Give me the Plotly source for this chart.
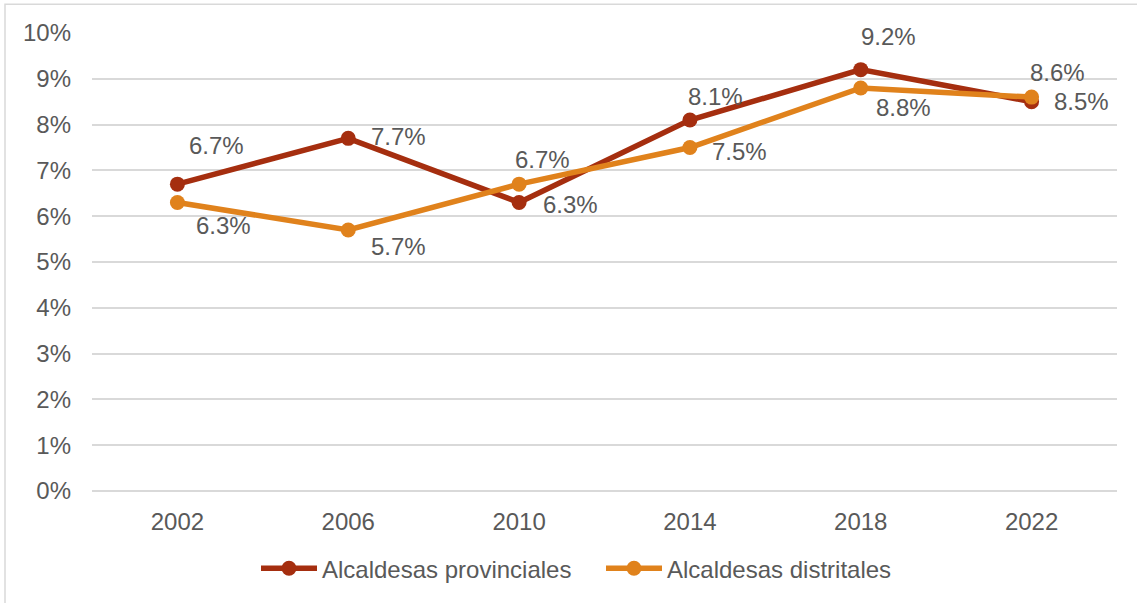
import plotly.graph_objects as go

years = ["2002", "2006", "2010", "2014", "2018", "2022"]
provinciales = [6.7, 7.7, 6.3, 8.1, 9.2, 8.5]
distritales = [6.3, 5.7, 6.7, 7.5, 8.8, 8.6]
y_ticks = list(range(0, 11))
y_tick_labels = [f"{v}%" for v in y_ticks]
series_names = ["Alcaldesas provinciales", "Alcaldesas distritales"]

RED = "#A52E0F"
ORANGE = "#E0821C"
TEXT = "#595959"
FONT = "Liberation Sans, Arial, sans-serif"
FS = 24

# label offsets in pixels (dx, dy) relative to the point, dy positive = up
prov_off = [(39, 39), (50, 2), (51, -2), (26, 24), (28, 33), (50, 0)]
dist_off = [(46, -23), (50, -17), (23, 25), (50, -4), (43, -20), (26, 25)]

fig = go.Figure()
fig.add_trace(go.Scatter(
    x=years, y=provinciales, name=series_names[0], mode="lines+markers",
    line=dict(color=RED, width=5.5), marker=dict(color=RED, size=15),
))
fig.add_trace(go.Scatter(
    x=years, y=distritales, name=series_names[1], mode="lines+markers",
    line=dict(color=ORANGE, width=5.5), marker=dict(color=ORANGE, size=15),
))

annotations = []
for vals, offs in ((provinciales, prov_off), (distritales, dist_off)):
    for i, (v, (dx, dy)) in enumerate(zip(vals, offs)):
        annotations.append(dict(
            x=i, y=v, xref="x", yref="y", text=f"{v:.1f}%", showarrow=False,
            xshift=dx, yshift=dy, font=dict(family=FONT, size=FS, color=TEXT),
            xanchor="center", yanchor="middle",
        ))

L, R, T, B = 92, 20, 33, 110
W, H = 1137, 603
pw, ph = W - L - R, H - T - B

def px_x(p):
    return (p - L) / pw

def px_y(p):
    return (H - B - p) / ph

fig.update_layout(
    width=W, height=H,
    margin=dict(l=L, r=R, t=T, b=B, pad=0),
    paper_bgcolor="white", plot_bgcolor="white",
    font=dict(family=FONT, size=FS, color=TEXT),
    showlegend=True,
    legend=dict(
        orientation="h", x=px_x(256), y=px_y(571), xanchor="left", yanchor="middle",
        font=dict(family=FONT, size=FS, color=TEXT), itemwidth=56,
        entrywidth=274, entrywidthmode="pixels",
        traceorder="normal", bgcolor="rgba(0,0,0,0)",
    ),
    annotations=annotations,
    shapes=[dict(
        type="rect", xref="paper", yref="paper",
        x0=px_x(5), x1=px_x(1145), y0=px_y(612), y1=px_y(4),
        line=dict(color="#D9D9D9", width=1.5), fillcolor="rgba(0,0,0,0)", layer="below",
    )],
    xaxis=dict(
        type="category", categoryorder="array", categoryarray=years,
        range=[-0.5, 5.5], showgrid=False, zeroline=False, showline=False,
        ticks="", ticklabelstandoff=14, tickfont=dict(family=FONT, size=FS, color=TEXT),
    ),
    yaxis=dict(
        range=[0, 10], tickvals=y_ticks, ticktext=y_tick_labels,
        showgrid=True, gridcolor="#D9D9D9", gridwidth=1.5,
        zeroline=True, zerolinecolor="#D9D9D9", zerolinewidth=1.5,
        showline=False, ticks="", ticklabelstandoff=20,
        tickfont=dict(family=FONT, size=FS, color=TEXT),
    ),
)

fig.write_html(
    "out.html",
    config={"displayModeBar": False},
    post_script="document.body.style.margin='0';document.body.style.overflow='hidden';",
)
